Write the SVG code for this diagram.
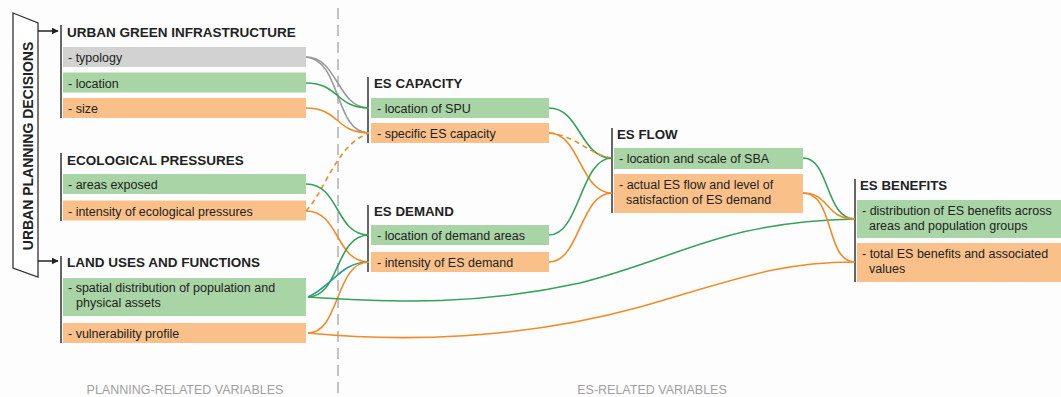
<svg xmlns="http://www.w3.org/2000/svg" width="1061" height="397" viewBox="0 0 1061 397">
<defs>
<marker id="ah" viewBox="0 0 10 10" refX="9" refY="5" markerWidth="7" markerHeight="7" markerUnits="userSpaceOnUse" orient="auto"><path d="M0,0 L10,5 L0,10 z" fill="#222"/></marker>
<style>
.hd{font-family:"Liberation Sans",Arial,sans-serif;font-weight:bold;font-size:13.3px;fill:#222}
.it{font-family:"Liberation Sans",Arial,sans-serif;font-size:12.5px;fill:#222}
.lb{font-family:"Liberation Sans",Arial,sans-serif;font-size:12.5px;fill:#a0a0a0}
.bar{stroke:#333;stroke-width:1.5}
.g{fill:#a9d4a5}
.o{fill:#f9c08a}
.y{fill:#d2d2d2}
.c{fill:none;stroke-width:1.6}
.cg{stroke:#34a35a}
.co{stroke:#f28a26}
.cy{stroke:#999}
.ct{stroke:#2a9a8a}
.dash{stroke-dasharray:5 4}
</style>
</defs>
<rect width="1061" height="397" fill="#fdfdfd"/>
<line x1="338" y1="8" x2="338" y2="397" stroke="#b4b4b4" stroke-width="1.6" stroke-dasharray="11 6"/>
<g id="urban-planning-decisions">
<path d="M13,13 L38,23 L38,277 L13,268 z" fill="#fff" stroke="#333" stroke-width="1.3"/>
<text class="hd" style="font-size:14px" transform="translate(33,146) rotate(-90)" text-anchor="middle">URBAN PLANNING DECISIONS</text>
<line x1="38" y1="31" x2="58" y2="31" stroke="#222" stroke-width="1.5" marker-end="url(#ah)"/>
<line x1="38" y1="261" x2="58" y2="261" stroke="#222" stroke-width="1.5" marker-end="url(#ah)"/>
</g>
<g id="urban-green-infrastructure">
<line class="bar" x1="61" y1="25" x2="61" y2="118"/>
<text class="hd" style="font-size:13.5px" x="67" y="37">URBAN GREEN INFRASTRUCTURE</text>
<rect class="y" x="63" y="47" width="243" height="20"/>
<text class="it" x="68" y="62">- typology</text>
<rect class="g" x="63" y="72.5" width="243" height="20"/>
<text class="it" x="68" y="87.5">- location</text>
<rect class="o" x="63" y="98" width="243" height="20"/>
<text class="it" x="68" y="113">- size</text>
</g>
<g id="ecological-pressures">
<line class="bar" x1="61" y1="153" x2="61" y2="221"/>
<text class="hd" style="font-size:13.5px" x="67" y="165">ECOLOGICAL PRESSURES</text>
<rect class="g" x="63" y="174" width="243" height="20"/>
<text class="it" x="68" y="189">- areas exposed</text>
<rect class="o" x="63" y="200.5" width="243" height="20"/>
<text class="it" x="68" y="215.5">- intensity of ecological pressures</text>
</g>
<g id="land-uses-and-functions">
<line class="bar" x1="61" y1="256" x2="61" y2="343"/>
<text class="hd" style="font-size:13.5px" x="67" y="267">LAND USES AND FUNCTIONS</text>
<rect class="g" x="63" y="278" width="243" height="38"/>
<text class="it" x="68" y="292">- spatial distribution of population and</text>
<text class="it" x="76" y="307">physical assets</text>
<rect class="o" x="63" y="323" width="243" height="20"/>
<text class="it" x="68" y="338">- vulnerability profile</text>
</g>
<g id="es-capacity">
<line class="bar" x1="368" y1="77" x2="368" y2="143"/>
<text class="hd" x="374" y="88">ES CAPACITY</text>
<rect class="g" x="371" y="98" width="178" height="20"/>
<text class="it" x="377" y="113">- location of SPU</text>
<rect class="o" x="371" y="123" width="178" height="20"/>
<text class="it" x="377" y="138">- specific ES capacity</text>
</g>
<g id="es-demand">
<line class="bar" x1="368" y1="205" x2="368" y2="272"/>
<text class="hd" x="374" y="216">ES DEMAND</text>
<rect class="g" x="371" y="225" width="178" height="20"/>
<text class="it" x="377" y="240">- location of demand areas</text>
<rect class="o" x="371" y="252" width="178" height="20"/>
<text class="it" x="377" y="267">- intensity of ES demand</text>
</g>
<g id="es-flow">
<line class="bar" x1="612" y1="128" x2="612" y2="213"/>
<text class="hd" x="617" y="139">ES FLOW</text>
<rect class="g" x="614" y="148" width="189" height="21"/>
<text class="it" x="619" y="163">- location and scale of SBA</text>
<rect class="o" x="614" y="174" width="189" height="39"/>
<text class="it" x="619" y="189">- actual ES flow and level of</text>
<text class="it" x="626" y="204">satisfaction of ES demand</text>
</g>
<g id="es-benefits">
<line class="bar" x1="855" y1="179" x2="855" y2="282"/>
<text class="hd" x="860" y="190">ES BENEFITS</text>
<rect class="g" x="857" y="200" width="204" height="38"/>
<text class="it" x="862" y="215">- distribution of ES benefits across</text>
<text class="it" x="869" y="230">areas and population groups</text>
<rect class="o" x="857" y="243" width="204" height="39"/>
<text class="it" x="862" y="258">- total ES benefits and associated</text>
<text class="it" x="869" y="273">values</text>
</g>
<g id="connectors">
<path class="c cy" d="M306,57 C338,57 337,108 369,108"/>
<path class="c cy" d="M306,57 C342,60 334,133 369,133"/>
<path class="c cg" d="M306,83 C340,83 335,108 369,108"/>
<path class="c co" d="M306,108 C340,108 335,133 369,133"/>
<path class="c co dash" d="M306,211 C326,190 336,145 369,133"/>
<path class="c cg" d="M306,184 C340,184 335,235 369,235"/>
<path class="c co" d="M306,211 C340,211 335,262 369,262"/>
<path class="c cg" d="M308,297 C340,297 335,235 369,235"/>
<path class="c ct" d="M308,297 C333,286 340,262 369,262"/>
<path class="c co" d="M308,333 C340,333 335,262 369,262"/>
<path class="c cg" d="M308,297 C400,303 480,305 580,283 C680,258 720,222 855,219"/>
<path class="c co" d="M308,333 C400,342 520,340 640,307 C740,278 780,262 855,262"/>
<path class="c cg" d="M549,108 C580,108 580,158 612,158"/>
<path class="c co" d="M549,133 C580,133 580,193 612,193"/>
<path class="c co dash" d="M549,133 C575,135 590,155 612,158"/>
<path class="c cg" d="M549,235 C580,235 580,158 612,158"/>
<path class="c co" d="M549,262 C580,262 580,193 612,193"/>
<path class="c cg" d="M803,158 C830,158 825,219 855,219"/>
<path class="c co" d="M803,193 C830,193 825,219 855,219"/>
<path class="c co" d="M803,193 C835,193 825,262 855,262"/>
</g>
<text class="lb" x="185" y="394" text-anchor="middle">PLANNING-RELATED VARIABLES</text>
<text class="lb" x="652" y="394" text-anchor="middle">ES-RELATED VARIABLES</text>
</svg>
